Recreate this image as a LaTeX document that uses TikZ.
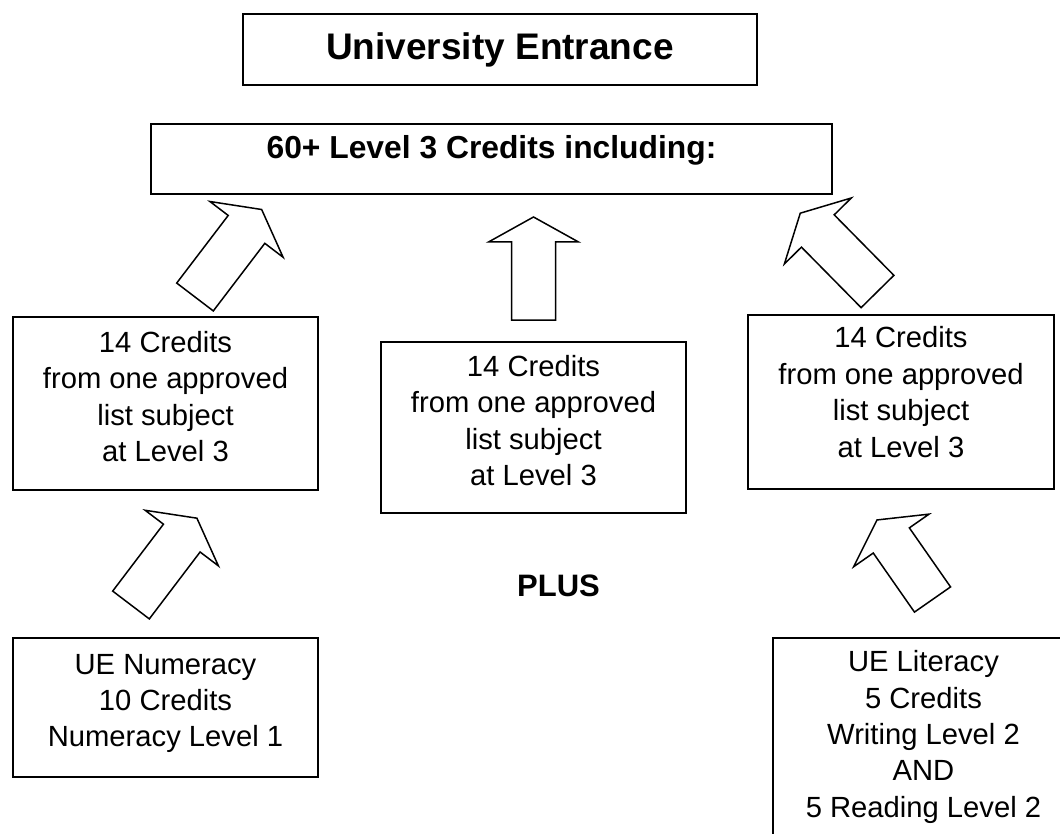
\documentclass[tikz,border=0pt]{standalone}
\usepackage{fontspec}
\setmainfont{Liberation Sans}

\begin{document}
\begin{tikzpicture}[x=0.5pt,y=-0.5pt,
  block/.style={rectangle,draw,line width=1pt,align=center,inner sep=0pt,text depth=7pt,font=\fontsize{14.6}{18.2}\selectfont},
  headbox/.style={rectangle,draw,line width=1pt,inner sep=0pt},
  bigarrow/.style={draw,line width=0.75pt,line join=miter}]
\useasboundingbox (0,0) rectangle (1060,834);
\clip (0,0) rectangle (1060,834);
\path
(500,49.5) node [headbox,minimum width=257pt,minimum height=35.5pt,font=\bfseries\fontsize{18.5}{22}\selectfont] (uni) {University Entrance}
(491.5,159) node [headbox,minimum width=340.5pt,minimum height=35pt,text height=8pt,text depth=8pt,font=\bfseries\fontsize{15.9}{19}\selectfont] (req) {60+ Level 3 Credits including:}
(165.5,403.5) node [block,minimum width=152.5pt,minimum height=86.5pt] (subjA) {14 Credits\\from one approved\\list subject\\at Level 3}
(533.5,427.5) node [block,minimum width=152.5pt,minimum height=85.5pt] (subjB) {14 Credits\\from one approved\\list subject\\at Level 3}
(901,402) node [block,minimum width=153pt,minimum height=87pt,text depth=10pt] (subjC) {14 Credits\\from one approved\\list subject\\at Level 3}
(165.5,707.5) node [block,minimum width=152.5pt,minimum height=69.5pt] (numeracy) {UE Numeracy\\10 Credits\\Numeracy Level 1}
(923.5,743) node [block,minimum width=150.5pt,minimum height=105pt,text depth=9pt] (literacy) {UE Literacy\\5 Credits\\Writing Level 2\\AND\\5 Reading Level 2}
(558.5,596) node [anchor=base,font=\bfseries\fontsize{15.5}{18}\selectfont] (plus) {PLUS}
;

% block arrows pointing up to the boxes above
\draw[bigarrow,shift={(195,297)},rotate=52.7] (0,-23) -- (85,-23) -- (85,-46) -- (110,0) -- (85,46) -- (85,23) -- (0,23) -- cycle;
\draw[bigarrow,shift={(533.5,320)},rotate=90] (0,-22) -- (78,-22) -- (78,-45) -- (103,0) -- (78,45) -- (78,22) -- (0,22) -- cycle;
\draw[bigarrow,shift={(877.5,291.5)},rotate=134.6] (0,-23) -- (85,-23) -- (85,-47) -- (110,0) -- (85,47) -- (85,23) -- (0,23) -- cycle;
\draw[bigarrow,shift={(131,605)},rotate=52.8] (0,-23) -- (84,-23) -- (84,-46) -- (109,0) -- (84,46) -- (84,23) -- (0,23) -- cycle;
\draw[bigarrow,shift={(932.5,599.5)},rotate=124.9] (0,-22) -- (72,-22) -- (72,-46) -- (97,0) -- (72,46) -- (72,22) -- (0,22) -- cycle;
\end{tikzpicture}
\end{document}
